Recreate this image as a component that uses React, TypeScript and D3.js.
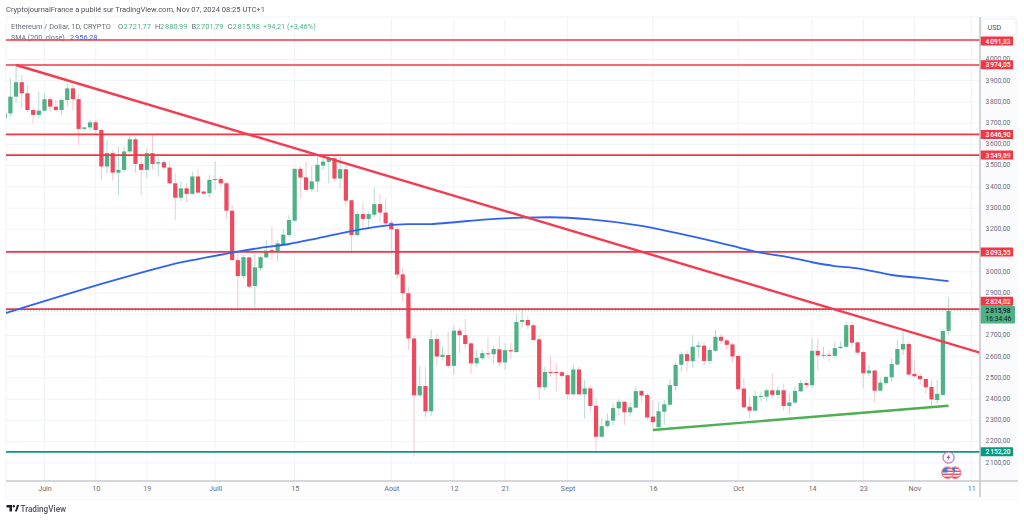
import { useEffect, useRef } from "react";
import * as d3 from "d3";

const OPENS = [3723,3746,3825,3893,3841,3762,3739,3759,3813,3778,3762,3809,3864,3813,3673,3680,3704,3668,3496,3559,3467,3480,3567,3624,3508,3480,3559,3510,3516,3491,3417,3349,3393,3367,3449,3378,3370,3433,3437,3417,3288,3055,2980,3068,2933,3017,3068,3102,3096,3131,3173,3241,3485,3445,3389,3425,3500,3518,3535,3439,3483,3337,3173,3272,3249,3269,3319,3279,3231,3201,2988,2899,2686,2418,2462,2343,2683,2599,2608,2557,2723,2702,2663,2569,2593,2616,2612,2635,2573,2631,2622,2764,2773,2748,2682,2456,2528,2528,2527,2513,2423,2540,2423,2451,2369,2223,2273,2299,2357,2388,2338,2360,2439,2420,2318,2268,2341,2374,2462,2562,2612,2579,2646,2652,2580,2628,2694,2677,2658,2604,2450,2365,2346,2412,2412,2442,2420,2442,2368,2384,2437,2476,2466,2628,2605,2609,2604,2641,2647,2749,2668,2622,2522,2535,2440,2476,2503,2563,2634,2660,2519,2510,2495,2458,2396,2420,2721.77];
const HIGHS = [3758,3912,3975,3927,3880,3770,3849,3841,3825,3809,3817,3888,3880,3836,3683,3718,3715,3676,3621,3573,3590,3590,3644,3636,3559,3582,3644,3543,3527,3519,3464,3425,3417,3472,3483,3386,3456,3519,3449,3425,3315,3094,3080,3071,3094,3079,3149,3212,3149,3204,3267,3488,3496,3519,3496,3543,3535,3543,3551,3543,3496,3338,3283,3326,3283,3398,3367,3346,3244,3212,3017,2930,2702,2556,2553,2726,2707,2648,2718,2749,2738,2778,2671,2632,2632,2690,2650,2694,2663,2663,2801,2823,2792,2754,2702,2553,2601,2569,2535,2519,2562,2553,2491,2467,2404,2310,2333,2381,2399,2391,2388,2462,2447,2428,2396,2388,2396,2494,2573,2624,2628,2702,2671,2671,2647,2729,2707,2686,2666,2604,2499,2412,2440,2436,2451,2522,2459,2475,2428,2462,2491,2491,2686,2686,2647,2631,2671,2671,2765,2765,2671,2628,2562,2538,2499,2510,2593,2679,2718,2671,2585,2522,2499,2491,2491,2729,2880.99];
const LOWS = [3713,3731,3794,3770,3754,3699,3723,3754,3754,3754,3739,3778,3762,3597,3668,3665,3652,3433,3464,3430,3362,3472,3559,3467,3362,3441,3480,3449,3480,3409,3244,3330,3327,3362,3370,3365,3351,3386,3401,3252,3048,2828,2969,2922,2828,3005,3064,3056,3048,3126,3165,3236,3346,3378,3378,3378,3480,3417,3425,3393,3307,3091,3165,3204,3204,3256,3231,3220,3080,2965,2859,2631,2129,2412,2314,2321,2557,2585,2546,2514,2616,2639,2519,2554,2585,2593,2569,2554,2538,2588,2619,2738,2729,2671,2399,2443,2506,2436,2499,2399,2420,2420,2310,2341,2152,2220,2267,2278,2325,2278,2318,2357,2388,2302,2263,2263,2278,2371,2440,2530,2530,2546,2593,2557,2566,2623,2660,2634,2573,2436,2357,2310,2341,2388,2388,2404,2404,2346,2330,2377,2432,2451,2451,2538,2593,2577,2593,2634,2644,2647,2608,2451,2510,2384,2436,2467,2483,2561,2608,2510,2499,2467,2425,2365,2381,2415,2701.79];
const CLOSES = [3746,3825,3893,3841,3762,3739,3759,3813,3778,3762,3809,3864,3813,3673,3680,3704,3668,3496,3559,3467,3480,3567,3624,3508,3480,3559,3508,3516,3491,3417,3349,3393,3367,3449,3373,3368,3433,3437,3417,3288,3055,2980,3069,2930,3021,3069,3099,3097,3134,3175,3244,3485,3444,3386,3426,3504,3519,3535,3439,3483,3335,3173,3272,3249,3272,3319,3279,3228,3200,2987,2899,2686,2418,2462,2343,2683,2601,2609,2557,2723,2702,2660,2569,2595,2617,2612,2636,2573,2631,2625,2764,2773,2748,2679,2456,2528,2525,2525,2510,2423,2540,2423,2451,2368,2223,2273,2299,2358,2388,2338,2362,2438,2417,2314,2292,2343,2376,2466,2562,2612,2580,2647,2653,2580,2632,2694,2675,2656,2601,2448,2362,2346,2415,2415,2442,2420,2442,2368,2385,2439,2476,2467,2628,2606,2609,2604,2641,2647,2749,2666,2619,2522,2535,2440,2478,2505,2566,2636,2660,2516,2508,2494,2456,2399,2425,2721,2815.98];

const SMA_DAYS = [0,3,11,17,24,29,34,40,45,50,55,61,68,71,75,78,85,91,96,103,112,117,123,129,132,138,142,146,150,156,161,166];
const SMA_VALUES = [2804,2829,2895,2943,2996,3032,3060,3090,3113,3131,3158,3192,3220,3225,3225,3231,3247,3255,3257,3247,3216,3189,3154,3115,3095,3068,3045,3027,3016,2985,2971,2956.28];

const LEVELS = [4091.83, 3974.05, 3646.9, 3549.69, 3093.55, 2824.02];
const SUPPORT = 2152.2;
const LAST_CLOSE = 2815.98;
const RED_TREND_DAYS = [2, 171.5];
const RED_TREND_PRICES = [3974, 2619];
const GREEN_TREND_DAYS = [114, 166];
const GREEN_TREND_PRICES = [2255, 2369];

const PRICE_TICKS = [2100,2200,2300,2400,2500,2600,2700,2800,2900,3000,3100,3200,3300,3400,3500,3600,3700,3800,3900,4000];
// these two sit right under the price tags in the original
const HIDDEN_LABELS = [2800, 3100];
const TIME_TICKS = ["2024-06-01","2024-06-10","2024-06-19","2024-07-01","2024-07-15","2024-08-01","2024-08-12","2024-08-21","2024-09-01","2024-09-16","2024-10-01","2024-10-14","2024-10-23","2024-11-01","2024-11-11"];
const TIME_LABELS = ["Juin","10","19","Juill","15","Août","12","21","Sept","16","Oct","14","23","Nov","11"];

const FONT = "'Roboto', 'Liberation Sans', sans-serif";
const RED = "#f23645", TEAL = "#089981", UP = "#4fb286", DOWN = "#ee4a5f";
const GRID = "#f0f3fa", AXIS = "#c8cad0", TXT = "#6a6d78";

const fmt = d3.formatLocale({ decimal: ",", thousands: "\u202f", grouping: [3], currency: ["", ""] }).format(",.2f");

export default function App() {
  const ref = useRef<SVGSVGElement>(null);

  useEffect(() => {
    if (!ref.current) return;
    const svg = d3.select(ref.current);
    svg.selectAll("*").remove();
    svg.attr("font-family", FONT);

    const L = 6, R = 980, T = 17, B = 481, OUT = 1017;
    const x = d3.scaleUtc().domain([new Date("2024-06-01"), new Date("2024-11-11")]).range([44.5, 971.3]);
    const y = d3.scaleLinear().domain([3974.05, 2152.2]).range([65, 451.8]);
    const dayOf = (i: number) => new Date(Date.UTC(2024, 4, 25) + i * 864e5);
    const ticks = TIME_TICKS.map(d => new Date(d));

    svg.append("defs").append("clipPath").attr("id", "plot")
      .append("rect").attr("x", L).attr("y", T).attr("width", R - L).attr("height", B - T);

    svg.append("rect").attr("x", L).attr("y", T).attr("width", OUT - L).attr("height", 499 - T)
      .attr("fill", "white").attr("stroke", "#f2f4f9");

    // grid
    const grid = svg.append("g").attr("stroke", GRID).attr("stroke-width", 1);
    PRICE_TICKS.forEach(p => grid.append("line").attr("x1", L).attr("x2", R).attr("y1", y(p)).attr("y2", y(p)));
    ticks.forEach(d => grid.append("line").attr("x1", x(d)).attr("x2", x(d)).attr("y1", T).attr("y2", B));

    const plot = svg.append("g").attr("clip-path", "url(#plot)");

    // candles
    OPENS.forEach((o, i) => {
      const c = CLOSES[i], cx = x(dayOf(i));
      plot.append("line").attr("x1", cx).attr("x2", cx).attr("y1", y(HIGHS[i])).attr("y2", y(LOWS[i]))
        .attr("stroke", c >= o ? "#b5dccb" : "#f9c6ce").attr("stroke-width", 1);
      plot.append("rect").attr("x", cx - 2.1).attr("width", 4.2)
        .attr("y", y(Math.max(o, c))).attr("height", Math.max(1, Math.abs(y(o) - y(c))))
        .attr("fill", c >= o ? UP : DOWN);
    });

    // current price dots
    plot.append("line").attr("x1", L).attr("x2", R).attr("y1", y(LAST_CLOSE)).attr("y2", y(LAST_CLOSE))
      .attr("stroke", TEAL).attr("stroke-opacity", 0.45).attr("stroke-dasharray", "1,2");

    // horizontal levels
    LEVELS.forEach(p => {
      plot.append("line").attr("x1", L).attr("x2", R).attr("y1", y(p)).attr("y2", y(p))
        .attr("stroke", RED).attr("stroke-width", 1.7);
    });
    plot.append("line").attr("x1", L).attr("x2", R).attr("y1", y(SUPPORT)).attr("y2", y(SUPPORT))
      .attr("stroke", TEAL).attr("stroke-width", 1.7);

    // sma
    const sma = d3.line<number>().x((_, i) => x(dayOf(SMA_DAYS[i]))).y(d => y(d)).curve(d3.curveMonotoneX);
    plot.append("path").attr("d", sma(SMA_VALUES)).attr("fill", "none").attr("stroke", "#2f62f0").attr("stroke-width", 1.8);

    // trend lines
    plot.append("line")
      .attr("x1", x(dayOf(RED_TREND_DAYS[0]))).attr("y1", y(RED_TREND_PRICES[0]))
      .attr("x2", x(dayOf(RED_TREND_DAYS[1]))).attr("y2", y(RED_TREND_PRICES[1]))
      .attr("stroke", "#f23d50").attr("stroke-width", 2.4);
    plot.append("line")
      .attr("x1", x(dayOf(GREEN_TREND_DAYS[0]))).attr("y1", y(GREEN_TREND_PRICES[0]))
      .attr("x2", x(dayOf(GREEN_TREND_DAYS[1]))).attr("y2", y(GREEN_TREND_PRICES[1]))
      .attr("stroke", "#4caf50").attr("stroke-width", 2.4);

    // event icons
    const lastX = x(dayOf(166));
    const icons = svg.append("g");
    icons.append("circle").attr("cx", lastX).attr("cy", 457.5).attr("r", 5.6)
      .attr("fill", "white").attr("stroke", "#ab47bc").attr("stroke-width", 1);
    icons.append("path").attr("d", `M${lastX + 1.2},453.8 L${lastX - 2},458 L${lastX - 0.2},458 L${lastX - 1.2},461 L${lastX + 2},456.8 L${lastX + 0.2},456.8 Z`)
      .attr("fill", "#ab47bc");
    [lastX + 6.5, lastX - 1].forEach((cx, k) => {
      const id = `flag${k}`;
      icons.append("clipPath").attr("id", id).append("circle").attr("cx", cx).attr("cy", 472.7).attr("r", 5.8);
      const f = icons.append("g").attr("clip-path", `url(#${id})`);
      f.append("circle").attr("cx", cx).attr("cy", 472.7).attr("r", 5.8).attr("fill", "white");
      d3.range(4).forEach(s => f.append("rect").attr("x", cx - 6).attr("y", 467.5 + s * 3).attr("width", 12).attr("height", 1.5).attr("fill", "#ef5365"));
      f.append("rect").attr("x", cx - 6).attr("y", 467).attr("width", 6).attr("height", 5.5).attr("fill", "#3d7fe0");
      icons.append("circle").attr("cx", cx).attr("cy", 472.7).attr("r", 5.8).attr("fill", "none").attr("stroke", "#f7697a").attr("stroke-width", 1);
    });

    // price axis
    svg.append("rect").attr("x", R).attr("y", T).attr("width", OUT - R).attr("height", B - T).attr("fill", "#fbfbfe");
    const yAxis = svg.append("g").attr("transform", `translate(${R},0)`)
      .call(d3.axisRight(y).tickValues(PRICE_TICKS.filter(p => !HIDDEN_LABELS.includes(p)))
        .tickFormat(v => fmt(v as number)).tickSize(0).tickPadding(5.5));
    yAxis.select(".domain").remove();
    yAxis.selectAll("text").attr("fill", TXT).attr("font-size", 6.7).attr("font-family", FONT).attr("dy", "0.2em");

    const tag = (p: number, cy: number, fill: string) => {
      svg.append("rect").attr("x", R).attr("y", cy - 4.5).attr("width", 33).attr("height", 9).attr("fill", fill).attr("rx", 0.5);
      svg.append("text").attr("x", 985.5).attr("y", cy + 2.5).attr("fill", "white").attr("font-size", 6.7).attr("font-weight", 500).text(fmt(p));
    };
    tag(4091.83, 41, RED);
    tag(3974.05, 64.8, RED);
    tag(3646.9, 134.5, RED);
    tag(3549.69, 155, RED);
    tag(3093.55, 252, RED);
    tag(2824.02, 301.3, RED);
    tag(SUPPORT, 451.8, TEAL);

    svg.append("rect").attr("x", R).attr("y", 306).attr("width", 35).attr("height", 17.5).attr("fill", UP).attr("rx", 1);
    svg.append("text").attr("x", 985.5).attr("y", 312.8).attr("fill", "#12231c").attr("font-size", 6.7).attr("font-weight", 500).text(fmt(LAST_CLOSE));
    svg.append("text").attr("x", 985.5).attr("y", 320.8).attr("fill", "#12231c").attr("font-size", 6.7).text("16:34:46");

    svg.append("rect").attr("x", 981.7).attr("y", 19).attr("width", 34.3).attr("height", 16)
      .attr("fill", "white").attr("stroke", "#edf0f5").attr("rx", 1.5);
    svg.append("text").attr("x", 987.5).attr("y", 30).attr("fill", "#50535e").attr("font-size", 7.2).text("USD");

    // time axis
    svg.append("rect").attr("x", L).attr("y", B).attr("width", OUT - L).attr("height", 18).attr("fill", "#fdfdfe");
    const xAxis = svg.append("g").attr("transform", `translate(0,${B})`)
      .call(d3.axisBottom(x).tickValues(ticks).tickFormat((_, i) => TIME_LABELS[i]).tickSize(0).tickPadding(5));
    xAxis.select(".domain").remove();
    xAxis.selectAll("text").attr("fill", TXT).attr("font-size", 7.2).attr("font-family", FONT);

    svg.append("line").attr("x1", L).attr("x2", OUT + 1).attr("y1", B).attr("y2", B).attr("stroke", AXIS).attr("stroke-width", 1.6);
    svg.append("line").attr("x1", R).attr("x2", R).attr("y1", T).attr("y2", 497).attr("stroke", AXIS).attr("stroke-width", 1.6);

    // header and legend
    svg.append("text").attr("x", 6).attr("y", 12).attr("fill", "#50535e").attr("font-size", 7.5)
      .text("CryptojournalFrance a publié sur TradingView.com, Nov 07, 2024 08:25 UTC+1");

    const row1 = [
      { tx: 11, t: "Ethereum / Dollar, 1D, CRYPTO", c: TXT },
      { tx: 118, t: "O", c: TXT }, { tx: 123.5, t: "2\u202f721,77", c: UP },
      { tx: 155, t: "H", c: TXT }, { tx: 160, t: "2\u202f880,99", c: UP },
      { tx: 191.5, t: "B", c: TXT }, { tx: 196, t: "2\u202f701,79", c: UP },
      { tx: 227.5, t: "C", c: TXT }, { tx: 232.5, t: "2\u202f815,98", c: UP },
      { tx: 263, t: "+94,21 (+3,46%)", c: UP },
    ];
    row1.forEach(r => svg.append("text").attr("x", r.tx).attr("y", 29).attr("fill", r.c).attr("font-size", 7.4).text(r.t));
    svg.append("text").attr("x", 11).attr("y", 39.5).attr("fill", TXT).attr("font-size", 7.1).text("SMA (200, close)");
    svg.append("text").attr("x", 70).attr("y", 39.5).attr("fill", "#2f62f0").attr("font-size", 7.4).text("2\u202f956,28");

    // logo
    const logo = svg.append("g").attr("fill", "#1e222d");
    logo.append("path").attr("d", "M6.5,505 h5.5 v6.5 h-2.5 v-4 h-3 Z");
    logo.append("circle").attr("cx", 13.8).attr("cy", 506.2).attr("r", 1.2);
    logo.append("path").attr("d", "M15,511.5 L17,505 H19.2 L16.8,511.5 Z");
    svg.append("text").attr("x", 20.5).attr("y", 511.8).attr("fill", "#50535e").attr("font-size", 8.2).attr("font-weight", 500).text("TradingView");
  }, []);

  return <svg ref={ref} width={1024} height={520} style={{ position: "fixed", left: 0, top: 0 }} />;
}
